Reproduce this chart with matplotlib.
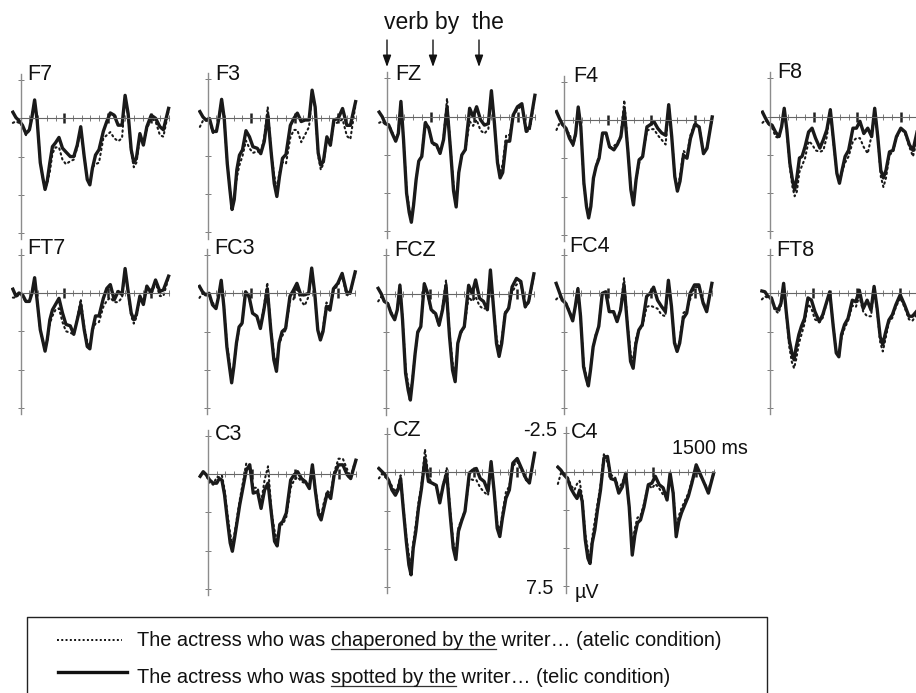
import matplotlib
matplotlib.use("Agg")
import matplotlib.pyplot as plt

# ===============================
# Data (uV, negative is up)
# ===============================

times = [-90, -55, -20, 20, 60, 100, 130, 160, 190, 225, 255, 280, 305, 335, 365, 400,
         440, 480, 520, 570, 610, 650, 690, 730, 765, 795, 825, 860, 900, 950, 990, 1030,
         1075, 1120, 1165, 1200, 1235, 1270, 1300, 1330, 1370, 1410, 1450, 1500, 1550, 1600, 1640, 1700]

f7_telic = [-.4, -.05, .15, .45, 1, .75, -.1, -1.2, .2, 2.9, 3.9, 4.65, 4.1, 2.9, 1.85, 1.6, 1.25, 1.95, 2.2, 2.5, 2.5, 1.75, .55, 2.5, 4, 4.35, 3.25, 2.4, 2.05, .85, .2, -.35, -.2, .45, .45, -1.5, -.3, 2.05, 2.9, 2.6, 1, 1.75, .55, -.2, 0, .55, .75, -.65]
f7_atelic = [.3, .2, .3, .5, 1.1, .8, -.1, -1.2, .2, 2.9, 3.9, 4.6, 4.2, 3.5, 2.3, 1.9, 1.9, 2.7, 3, 2.8, 2.7, 1.9, .6, 2.5, 4, 4.3, 3.2, 3, 2.9, 1.3, 1.1, .9, 1.3, 1.5, 1.3, -1.4, -.2, 2.2, 3.2, 2.9, 1.2, 1.7, .7, 0, .2, 1.1, 1.2, -.5]

f3_telic = [-.4, -.05, .15, .05, .9, .9, 0, -1.2, .05, 3, 4.7, 6, 5.35, 3.4, 2.45, 2.1, .85, 1.25, 1.9, 2, 2.35, 1.55, -.2, 2.3, 4.3, 5.15, 3.85, 2.65, 2.4, .5, .05, -.3, .25, .15, .15, -1.8, -.7, 2.3, 3.1, 2.85, 1.25, 1.8, .15, .05, -.6, .5, .5, -1.05]
f3_atelic = [.6, .2, .2, .2, 1, .9, 0, -1.2, .1, 3, 4.7, 5.9, 5.2, 3.9, 3.1, 2.5, 1.5, 2, 2.3, 2.2, 2.3, 1.3, -.7, 2.3, 3.8, 4.7, 3.6, 2.9, 3, 1.3, .8, .8, 1.6, 1.1, .6, -1.7, -.6, 2.5, 3.4, 3, 1.4, 1.8, .4, .3, .1, 1.2, 1.4, -.9]

fz_telic = [-.3, 0, .45, .55, 1.1, 1.6, 1.1, -1, 1.5, 5, 6.25, 6.9, 5.8, 4.1, 2.9, 2.6, .4, .75, 1.7, 1.85, 2.4, 1.5, -.65, 2.15, 4.85, 5.9, 3.65, 2.5, 2.15, -.55, 0, -.65, .2, .55, .45, -1.7, .45, 3, 4, 3.65, 1.6, 1.6, -.1, -.65, -.85, .95, .65, -1.4]
fz_atelic = [.4, .3, .5, .5, 1, 1.6, 1, -1, 1.5, 4.8, 6, 6.6, 5.7, 4.1, 2.9, 2.5, .3, .7, 1.8, 1.9, 2.4, 1.4, -1.2, 2.1, 4.5, 5.6, 3.6, 2.5, 2.2, .3, .6, .2, .9, 1.1, .8, -1.6, .5, 2.8, 3.7, 3.1, 1.2, 1.2, 0, -.5, -.7, 1, .9, -1.3]

f4_telic = [-.55, -.1, .3, .55, 1.2, 1.6, .9, -.85, .45, 4.1, 5.65, 6.4, 5.65, 3.8, 3.05, 2.5, .85, .85, 1.75, 1.95, 1.6, 1.1, -.65, 1.95, 4.55, 5.55, 3.9, 2.6, 2.4, .45, .3, .1, .55, .85, 1, -1, 1.1, 3.7, 4.65, 4, 2.3, 2.5, 1.2, .3, .45, 2.2, 1.85, -.2]
f4_atelic = [.65, .2, .3, .7, .9, 1.7, 1, -.8, .5, 4.2, 5.7, 6.3, 5.5, 3.9, 3, 2.3, .9, .9, 1.8, 1.7, 1.5, 1, -1.3, 1.9, 4.4, 5.4, 3.9, 2.8, 2.4, .7, .6, .6, 1, 1.3, 1.6, -1, 1.1, 3.6, 4.5, 3.7, 2, 2.3, 1, .2, .4, 2.1, 1.8, -.2]

f8_telic = [-.3, .1, .45, .55, 1, 1.3, .65, -.55, .85, 3.05, 4.15, 4.8, 4, 2.7, 2.6, 1.95, 1, .75, 1.4, 2.05, 1.5, .85, -.45, 1.75, 3.7, 4.35, 3.5, 2.6, 2.2, .75, .75, .3, 1.1, .75, 1.3, -.55, 1.3, 3.5, 4, 3.5, 2.3, 2.2, 1.3, .75, 1, 1.85, 2.2, .65]
f8_atelic = [.4, .2, .5, .7, 1.3, 1.4, .7, -.5, .9, 3.3, 4.6, 5.2, 4.9, 3.6, 3.2, 2.7, 1.6, 1.8, 2.2, 2.3, 2.2, 1.3, -.5, 1.9, 3.7, 4.3, 3.6, 3, 2.6, 1.6, 1.4, 1.4, 2, 2.4, 1.2, -.5, 1.3, 3.9, 4.6, 4, 2.5, 2.3, 1.4, .8, 1.1, 2, 2.6, 1.2]

ft7_telic = [-.25, .2, 0, .1, .55, .55, 0, -1, .55, 2.4, 3.15, 3.8, 3.05, 1.75, 1.1, .75, .35, 1.3, 2.05, 2.15, 2.7, 1.75, .75, 2.4, 3.5, 3.65, 2.4, 1.5, 1.5, .35, -.3, -.55, .45, -.1, .1, -1.6, -.1, 1.3, 1.75, 1.4, .2, .75, -.45, 0, -.85, -.1, -.2, -1.1]
ft7_atelic = [.3, .3, .1, .2, .6, .5, 0, -.9, .6, 2.5, 3.2, 3.7, 3.1, 2, 1.5, 1.1, 1, 1.9, 2.5, 2.6, 2.7, 1.7, .4, 2.2, 3.2, 3.5, 2.4, 2, 1.9, .9, .5, .3, .6, .6, .3, -1.5, 0, 1.5, 2, 1.6, .3, .7, -.3, .1, -.7, .2, .2, -1]

fc3_telic = [-.45, -.1, .1, 0, .75, 1, .2, -.85, .85, 3.5, 4.8, 5.85, 4.8, 3.25, 2.2, 1.95, -.1, .2, 1.3, 1.5, 2.3, 1.1, -.3, 2.4, 4.35, 5.1, 3.25, 2.5, 2.3, .2, -.2, -.65, .1, .1, 0, -1.65, 0, 2.4, 3.05, 2.5, .85, 1.1, -.3, -.65, -1.3, -.1, 0, -1.4]
fc3_atelic = [.3, 0, .1, .2, .6, .9, .2, -.8, .8, 3.3, 4.5, 5.6, 4.7, 3.4, 2.3, 2, -.1, .3, 1.3, 1.5, 2.2, .9, -.7, 2.3, 4, 4.8, 3.3, 2.8, 2.4, .5, .4, -.4, .5, .8, .2, -1.6, .1, 2.3, 2.9, 2.3, .6, 1, -.2, -.5, -1.2, .1, .1, -1.3]

fcz_telic = [-.35, 0, .5, .65, 1.3, 1.7, 1.05, -.55, 1.7, 5.2, 6.3, 6.95, 5.65, 3.9, 2.5, 2.15, -.65, 0, 1.05, 1.3, 2.05, 1.05, -.55, 2.8, 5, 5.75, 3.25, 2.5, 2.15, -.55, 0, -.9, .3, .5, 1.05, -1.55, .85, 3.25, 4.1, 3.25, 1.3, .95, -.45, -1, -.8, .85, .5, -1.3]
fcz_atelic = [.5, .2, .5, .6, 1.2, 1.6, 1, -.6, 1.6, 4.9, 5.9, 6.6, 5.5, 3.9, 2.6, 2.2, -.7, .1, 1.1, 1.4, 2.1, .9, -.9, 2.6, 4.5, 5.3, 3.2, 2.6, 2.2, .2, .5, .2, .8, 1, .9, -1.5, .8, 2.9, 3.6, 3, 1.2, .9, -.1, -.6, -.7, .9, .6, -1.2]

fc4_telic = [-.65, -.1, .45, .65, 1.2, 1.8, .85, -.3, 1.5, 4.8, 5.55, 6.05, 5, 3.5, 2.8, 2.15, 0, -.1, 1.2, 1.2, 1.85, 1.1, -.55, 2.15, 4.45, 4.9, 3.35, 2.4, 2.05, .2, 0, -.4, .45, .85, 1.2, -.85, .85, 3.25, 3.8, 3.25, 1.65, 1.3, 0, -.55, -.55, .65, 1.2, -.65]
fc4_atelic = [.4, .2, .3, .6, 1.1, 1.7, .9, -.4, 1.5, 4.6, 5.4, 5.9, 4.9, 3.5, 2.7, 2.1, 0, 0, 1.2, 1.3, 1.8, 1, -1, 2, 3.9, 4.5, 3, 2.4, 2.2, .9, .8, .9, 1, 1.4, 1.5, -.8, .9, 3.1, 3.7, 3.1, 1.3, 1.1, .4, -.4, -.4, .5, 1.1, -.6]

ft8_telic = [-.15, -.1, .2, .3, 1, 1.05, .65, -.65, 1.2, 3.05, 3.9, 4.35, 3.5, 2.7, 2.15, 1.65, .3, .45, 1.2, 1.85, 1.4, .65, -.1, 2.15, 3.9, 4.15, 2.7, 2.05, 1.65, .45, .55, -.2, 1, .45, 1.1, -.45, 1, 2.85, 3.35, 2.6, 1.75, 1.4, .75, .1, .75, 1.5, 1.5, 1.1]
ft8_atelic = [.4, .2, .3, .4, 1.1, 1.3, .8, -.6, 1.3, 3.5, 4.5, 4.9, 4.3, 3.3, 2.7, 2, .7, 1, 1.7, 1.9, 1.6, .7, -.1, 2.1, 3.8, 4.1, 2.9, 2.3, 1.8, .8, .9, .2, 1.2, 1.5, 1.5, -.4, 1.1, 3.2, 3.8, 3, 1.9, 1.6, .9, .3, .9, 1.7, 1.8, 1.3]

c3_telic = [.15, -.15, .05, .4, .6, .6, .3, .4, 1.35, 3.1, 4.5, 5.05, 4.2, 3.1, 2, .95, -.25, -.6, 1.25, 1.15, 2.25, 1.05, .6, 2.65, 4.4, 4.7, 3.3, 3.1, 2.55, .4, .05, -.15, .3, .5, .95, -.6, 1.15, 2.65, 3, 2.25, 1.25, 1.6, .05, -.6, -.6, .05, .3, -.9]
c3_atelic = [.1, -.1, .1, .6, .7, .2, .2, .1, 1, 2.7, 3.9, 4.6, 3.9, 2.8, 1.7, .6, -.7, -.6, .9, .9, 1.9, .4, -.5, 2.5, 3.7, 4.4, 3.3, 3.3, 2.8, .9, .4, .2, .5, .6, .8, -.6, 1, 2.3, 2.8, 1.9, 1.1, 1.3, -.1, -1, -1, -.3, .2, -1]

cz_telic = [-.25, -.05, .15, .5, 1.15, 1.5, 1.15, .4, 2.35, 4.5, 6.05, 6.7, 4.95, 3.85, 2.35, 1.05, -.9, .6, .7, .85, 2, .85, .05, 2.8, 4.95, 5.7, 3.85, 3.2, 2.55, .05, -.15, -.25, .4, .6, 1.25, -.7, 1.25, 3.65, 4.2, 3, 1.7, 1.15, -.6, -.9, -.25, .4, .7, -1.25]
cz_atelic = [.4, .1, .3, .5, .9, 1.3, .9, .2, 2.2, 4.2, 5.4, 6.1, 4.6, 3.4, 2, .8, -1.5, .3, .7, .9, 1.9, .8, -.3, 2.5, 4.6, 5.3, 3.6, 3.1, 2.5, .4, .5, .5, 1, 1.3, 1.5, -.6, 1.2, 3.3, 3.9, 2.7, 1.3, .9, -.4, -.7, -.1, .5, .7, -1.2]

c4_telic = [-.3, -.1, .2, .45, 1.1, 1.5, 1.75, 1.2, 1.95, 4.45, 5.65, 6, 4.65, 3.8, 2.5, 1.2, -.9, -1, .45, .55, 1.4, 1, .1, 2.3, 5.45, 4.15, 3.35, 3.15, 2.3, .85, .75, .3, .85, 1.05, 1.85, .1, 1.4, 4.25, 3.25, 2.7, 2.15, 1.6, .75, -.45, .2, .85, 1.4, .1]
c4_atelic = [.8, .1, .1, .3, .9, 1.2, .8, .6, 1.7, 4.1, 5.1, 5.6, 4.3, 3.2, 2.1, .9, -1.2, -.6, .2, .4, 1.1, .7, .2, 2.3, 4.8, 3.7, 3, 2.9, 2.1, .8, 1.1, .8, 1.1, 1.5, 1.7, .3, 1.3, 3.7, 2.9, 2.4, 1.9, 1.4, .6, -.1, .3, .8, 1.2, .1]

channels = ["F7", "F3", "FZ", "F4", "F8",
            "FT7", "FC3", "FCZ", "FC4", "FT8",
            "C3", "CZ", "C4"]
telic = [f7_telic, f3_telic, fz_telic, f4_telic, f8_telic,
         ft7_telic, fc3_telic, fcz_telic, fc4_telic, ft8_telic,
         c3_telic, cz_telic, c4_telic]
atelic = [f7_atelic, f3_atelic, fz_atelic, f4_atelic, f8_atelic,
          ft7_atelic, fc3_atelic, fcz_atelic, fc4_atelic, ft8_atelic,
          c3_atelic, cz_atelic, c4_atelic]

# ===============================
# Layout, in pixels of the picture
# ===============================

W, H = 916, 693
axis_x = [20.7, 207.7, 387, 564.3, 770.3,
          20.7, 207.3, 386, 564, 769.7,
          208, 386.7, 565.7]
base_y = [118.3, 117.7, 116.7, 120, 116.7,
          293, 293.3, 293.7, 293.3, 293.3,
          474, 472.3, 471.7]
label_x = [27, 215, 395, 573, 777,
           27, 214, 394, 569, 776,
           215, 393, 571]
label_y = [74, 74, 75, 77, 73,
           249, 249, 251, 247, 250,
           435, 430, 433]
PX_MS = 0.087
PX_UV = 15.3

plt.rcParams['font.family'] = ['Liberation Sans', 'DejaVu Sans']
fig = plt.figure(figsize=(W / 100, H / 100), dpi=100)

# ===============================
# Panels
# ===============================

for i, name in enumerate(channels):
    left = axis_x[i] - 110 * PX_MS
    top = base_y[i] - 2.9 * PX_UV
    w = 1860 * PX_MS
    h = 10.8 * PX_UV
    ax = fig.add_axes([left / W, 1 - (top + h) / H, w / W, h / H])
    ax.set_xlim(-110, 1750)
    ax.set_ylim(7.9, -2.9)
    ax.patch.set_alpha(0)

    ax.plot(times, atelic[i], color='#1a1a1a', lw=1.5, ls=(0, (0.7, 1.7)),
            dash_capstyle='round')
    ax.plot(times, telic[i], color='#1a1a1a', lw=2.4, solid_joinstyle='round')

    ax.spines['top'].set_visible(False)
    ax.spines['right'].set_visible(False)
    ax.spines['left'].set_position(('data', 0))
    ax.spines['bottom'].set_position(('data', 0))
    ax.spines['left'].set_bounds(-2.9, 7.9)
    ax.spines['bottom'].set_bounds(0, 1700)
    ax.spines['left'].set_color('#8c8c8c')
    ax.spines['bottom'].set_color('#666666')
    ax.spines['left'].set_linewidth(1.0)
    ax.spines['bottom'].set_linewidth(0.8)

    ax.set_xticks([500, 1000, 1500])
    ax.set_xticks([t for t in range(100, 1800, 100) if t % 500 != 0], minor=True)
    ax.set_yticks([-2.5, 0, 2.5, 5, 7.5])
    ax.tick_params(axis='x', which='major', direction='inout', length=7, width=1.8,
                   color='#222222', labelbottom=False)
    ax.tick_params(axis='x', which='minor', direction='inout', length=5, width=0.6,
                   color='#666666')
    ax.tick_params(axis='y', direction='inout', length=4, width=0.6,
                   color='#666666', labelleft=False)

# ===============================
# Text, arrows and legend box
# ===============================

over = fig.add_axes([0, 0, 1, 1])
over.set_xlim(0, W)
over.set_ylim(H, 0)
over.axis('off')
over.patch.set_alpha(0)

for i, name in enumerate(channels):
    over.text(label_x[i], label_y[i], name, fontsize=15.5, va='center', color='#111111')

over.text(384, 23, "verb by  the", fontsize=16.5, va='center', color='#111111')
for x in [387, 433, 479]:
    over.annotate("", xy=(x, 67), xytext=(x, 40),
                  arrowprops=dict(arrowstyle='-|>,head_width=0.25,head_length=0.7',
                                  color='#111111', lw=1.0, shrinkA=0, shrinkB=0))

over.text(557, 430, "-2.5", fontsize=14.2, va='center', ha='right', color='#111111')
over.text(553, 589, "7.5", fontsize=14.2, va='center', ha='right', color='#111111')
over.text(575, 592, "µV", fontsize=14.2, va='center', color='#111111')
over.text(672, 448, "1500 ms", fontsize=14.2, va='center', color='#111111')

over.plot([27, 27, 767, 767], [693, 617, 617, 693], color='#222222', lw=1.0)
over.plot([57, 122], [640, 640], color='#111111', lw=1.4, ls=(0, (1, 1.2)))
over.plot([58, 127], [672, 672], color='#111111', lw=2.4)

LEGEND_SIZE = 14.4


def text_row(x, y, pieces):
    # pieces are (string, underlined); each one starts where the last ended
    renderer = fig.canvas.get_renderer()
    for s, under in pieces:
        t = over.text(x, y, s, fontsize=LEGEND_SIZE, va='baseline', color='#111111')
        prop = t.get_fontproperties()
        # bars on both ends so that the spaces at the ends are counted
        adv = (renderer.get_text_width_height_descent("|" + s + "|", prop, False)[0]
               - renderer.get_text_width_height_descent("||", prop, False)[0])
        if under:
            over.plot([x, x + adv], [y + 3, y + 3], color='#333333', lw=0.9)
        x += adv


text_row(137, 646, [("The actress who was ", False), ("chaperoned by the", True),
                    (" writer… (atelic condition)", False)])
text_row(137, 683, [("The actress who was ", False), ("spotted by the", True),
                    (" writer… (telic condition)", False)])

fig.savefig("out.png", dpi=100)
